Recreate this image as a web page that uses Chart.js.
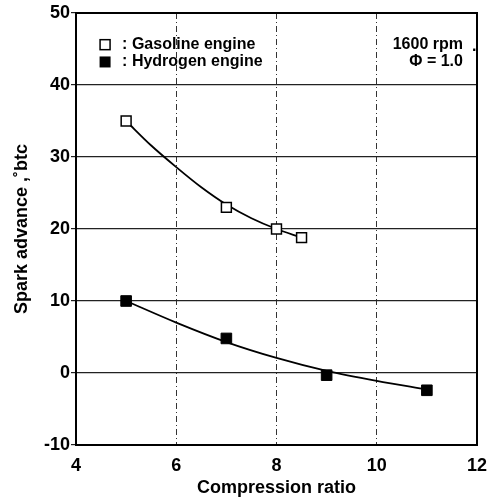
<!DOCTYPE html>
<html>
<head>
<meta charset="utf-8">
<script src="https://cdn.jsdelivr.net/npm/chart.js@4.4.1/dist/chart.umd.min.js"></script>
<style>
  body { margin: 0; background: #fff; }
  canvas { display: block; }
</style>
</head>
<body>
<canvas id="grafico" width="487" height="499"></canvas>
<script>
// datos
const ratioGasoline = [5, 7, 8, 8.5];
const advanceGasoline = [35, 23, 20, 18.8];
const ratioHydrogen = [5, 7, 9, 11];
const advanceHydrogen = [10, 4.8, -0.3, -2.4];

// curvas ajustadas
const fitGasolineX = [5, 5.5, 6, 6.5, 7, 7.5, 8, 8.5];
const fitGasolineY = [35, 31.6, 28.6, 25.8, 23.4, 21.5, 20.0, 18.8];
const fitHydrogenX = [5, 6, 7, 8, 9, 10, 11];
const fitHydrogenY = [10, 7.0, 4.3, 2.1, 0.3, -1.1, -2.3];

const xTicks = [4, 6, 8, 10, 12];
const yTicks = [-10, 0, 10, 20, 30, 40, 50];

const FONT = "'Liberation Sans', Arial, Helvetica, sans-serif";

function pares(xs, ys) {
    return xs.map((x, i) => ({ x: x, y: ys[i] }));
}

// marco y textos dentro del grafico
const extras = {
    id: "extras",
    beforeDatasetsDraw(chart) {
        const { ctx, chartArea: a } = chart;
        ctx.save();
        ctx.strokeStyle = "#000";
        ctx.lineWidth = 2;
        ctx.strokeRect(a.left, a.top, a.right - a.left, a.bottom - a.top);
        ctx.restore();
    },
    afterDraw(chart) {
        const { ctx } = chart;
        const sx = chart.scales.x, sy = chart.scales.y;
        ctx.save();
        ctx.fillStyle = "#000";
        ctx.font = "bold 16px " + FONT;
        ctx.textBaseline = "middle";

        const bx = sx.getPixelForValue(4.58);
        const r1 = sy.getPixelForValue(45.6);
        const r2 = sy.getPixelForValue(43.2);
        // cuadrado vacio
        ctx.strokeStyle = "#000";
        ctx.lineWidth = 1.5;
        ctx.fillStyle = "#fff";
        ctx.fillRect(bx - 5, r1 - 5, 10, 10);
        ctx.strokeRect(bx - 5, r1 - 5, 10, 10);
        // cuadrado lleno
        ctx.fillStyle = "#000";
        ctx.fillRect(bx - 5.5, r2 - 5.5, 11, 11);

        const tx = sx.getPixelForValue(4.92);
        ctx.textAlign = "left";
        ctx.fillText(": Gasoline engine", tx, r1);
        ctx.fillText(": Hydrogen engine", tx, r2);

        const rx = sx.getPixelForValue(11.72);
        ctx.textAlign = "right";
        ctx.fillText("1600 rpm", rx, r1);
        ctx.fillText("\u03A6 = 1.0", rx, r2);
        ctx.textAlign = "left";
        ctx.fillText(".", sx.getPixelForValue(11.9), sy.getPixelForValue(45.3));
        ctx.restore();
    }
};

const ctx = document.getElementById("grafico");

new Chart(ctx, {
    type: "scatter",
    data: {
        datasets: [
            {
                label: "Gasoline engine",
                data: pares(ratioGasoline, advanceGasoline),
                pointStyle: "rect",
                pointRadius: 7,
                pointBorderWidth: 1.5,
                borderColor: "#000",
                backgroundColor: "#fff",
                showLine: false,
                order: 0
            },
            {
                label: "Hydrogen engine",
                data: pares(ratioHydrogen, advanceHydrogen),
                pointStyle: "rect",
                pointRadius: 7.5,
                pointBorderWidth: 1,
                borderColor: "#000",
                backgroundColor: "#000",
                showLine: false,
                order: 0
            },
            {
                label: "fit gasoline",
                data: pares(fitGasolineX, fitGasolineY),
                showLine: true,
                pointRadius: 0,
                borderColor: "#000",
                borderWidth: 1.8,
                cubicInterpolationMode: "monotone",
                order: 1
            },
            {
                label: "fit hydrogen",
                data: pares(fitHydrogenX, fitHydrogenY),
                showLine: true,
                pointRadius: 0,
                borderColor: "#000",
                borderWidth: 1.8,
                cubicInterpolationMode: "monotone",
                order: 1
            }
        ]
    },
    options: {
        responsive: false,
        animation: false,
        layout: { padding: { left: 0, top: 13, right: 10, bottom: 0 } },
        plugins: {
            legend: { display: false },
            tooltip: { enabled: false }
        },
        scales: {
            x: {
                type: "linear",
                min: 4,
                max: 12,
                afterBuildTicks: s => { s.ticks = xTicks.map(v => ({ value: v })); },
                afterFit: s => { s.height = 54; s.paddingLeft = 0; s.paddingRight = 0; },
                border: { display: false, dash: [6, 3, 1, 3] },
                grid: { color: "#333", lineWidth: 1, drawTicks: false },
                ticks: {
                    color: "#000",
                    padding: 10,
                    font: { family: FONT, size: 18, weight: "bold" }
                },
                title: {
                    display: true,
                    text: "Compression ratio",
                    color: "#000",
                    padding: { top: 0, bottom: 0 },
                    font: { family: FONT, size: 18, weight: "bold" }
                }
            },
            y: {
                min: -10,
                max: 50,
                afterBuildTicks: s => { s.ticks = yTicks.map(v => ({ value: v })); },
                afterFit: s => { s.width = 76; s.paddingTop = 0; s.paddingBottom = 0; },
                border: { display: false },
                grid: { color: "#222", lineWidth: 1.2, tickLength: 5 },
                ticks: {
                    color: "#000",
                    padding: 1,
                    font: { family: FONT, size: 18, weight: "bold" }
                },
                title: {
                    display: true,
                    text: "Spark advance ,\u02DAbtc",
                    color: "#000",
                    padding: { top: 11, bottom: 0 },
                    font: { family: FONT, size: 18, weight: "bold" }
                }
            }
        }
    },
    plugins: [extras]
});
</script>
</body>
</html>
